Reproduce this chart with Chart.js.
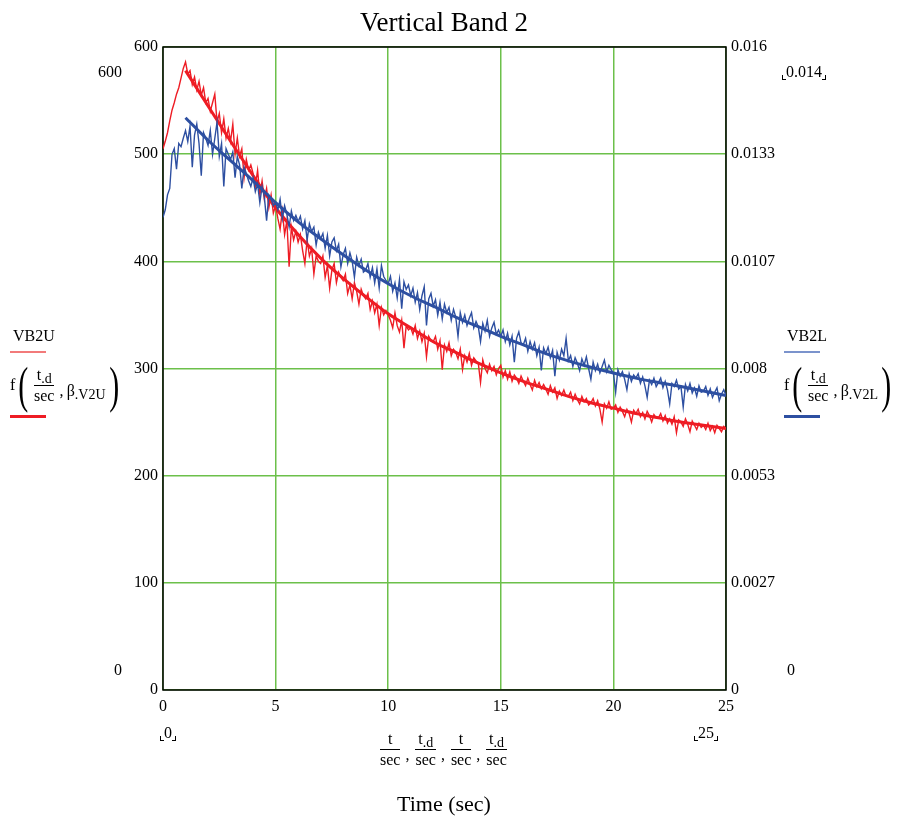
<!DOCTYPE html>
<html>
<head>
<meta charset="utf-8">
<script src="https://cdn.jsdelivr.net/npm/chart.js@4.4.1/dist/chart.umd.min.js"></script>
<style>
  body { margin: 0; background: #fff; }
  #wrap { position: relative; width: 904px; height: 822px; font-family: 'Liberation Serif', 'Times New Roman', serif; color: #000; }
  #chart { position: absolute; left: 0; top: 0; }
  .lbl { position: absolute; white-space: nowrap; font-size: 16px; line-height: 16px; }
  .br { display: inline-block; width: 3px; height: 4px; border-bottom: 1px solid #000; vertical-align: -3px; }
  .br.l { border-left: 1px solid #000; }
  .br.r { border-right: 1px solid #000; }
  .swatch { position: absolute; width: 36px; }
  .fx { position: absolute; display: flex; align-items: center; height: 52px; font-size: 16px; white-space: nowrap; }
  .pa { font-size: 50px; line-height: 52px; display: inline-block; transform: scaleX(0.6); font-weight: 300; }
  .frac { display: inline-flex; flex-direction: column; align-items: center; line-height: 15px; padding: 0 2px; }
  .frac .bar { align-self: stretch; height: 1px; background: #000; margin: 3px 0 2px 0; }
  .args { position: relative; top: 6px; margin-left: 3px; }
  sub { font-size: 14px; vertical-align: -3px; line-height: 0; }
  .xlab { position: absolute; display: flex; align-items: center; font-size: 16px; }
  .xlab .sep { position: relative; top: 6px; margin: 0 4px 0 3px; }
</style>
</head>
<body>
<div id="wrap">
  <canvas id="chart" width="904" height="822"></canvas>

  <div class="lbl" style="left:294px; top:7px; width:300px; text-align:center; font-size:27px; line-height:30px;">Vertical Band 2</div>

  <div class="lbl" style="left:90px; top:64px; width:32px; text-align:right;">600</div>
  <div class="lbl" style="left:90px; top:662px; width:32px; text-align:right;">0</div>
  <div class="lbl" style="left:782px; top:64px;"><span class="br l"></span>0.014<span class="br r"></span></div>
  <div class="lbl" style="left:787px; top:662px;">0</div>
  <div class="lbl" style="left:160px; top:725px;"><span class="br l"></span>0<span class="br r"></span></div>
  <div class="lbl" style="left:694px; top:725px;"><span class="br l"></span>25<span class="br r"></span></div>

  <!-- left trace labels -->
  <div class="lbl" style="left:13px; top:328px;">VB2U</div>
  <div class="swatch" style="left:10px; top:351px; height:2px; background:#f27a7a;"></div>
  <div class="fx" style="left:10px; top:359px;">
    <span>f</span><span class="pa">(</span>
    <span class="frac"><span>t<sub>.d</sub></span><span class="bar"></span><span>sec</span></span>
    <span class="args">,&thinsp;β<sub>.V2U</sub></span><span class="pa">)</span>
  </div>
  <div class="swatch" style="left:10px; top:415px; height:3px; background:#ee1c24;"></div>

  <!-- right trace labels -->
  <div class="lbl" style="left:787px; top:328px;">VB2L</div>
  <div class="swatch" style="left:784px; top:351px; height:2px; background:#7b93cc;"></div>
  <div class="fx" style="left:784px; top:359px;">
    <span>f</span><span class="pa">(</span>
    <span class="frac"><span>t<sub>.d</sub></span><span class="bar"></span><span>sec</span></span>
    <span class="args">,&thinsp;β<sub>.V2L</sub></span><span class="pa">)</span>
  </div>
  <div class="swatch" style="left:784px; top:415px; height:3px; background:#2d4fa1;"></div>

  <!-- x axis expression -->
  <div class="xlab" style="left:378px; top:731px;">
    <span class="frac"><span>t</span><span class="bar"></span><span>sec</span></span><span class="sep">,</span>
    <span class="frac"><span>t<sub>.d</sub></span><span class="bar"></span><span>sec</span></span><span class="sep">,</span>
    <span class="frac"><span>t</span><span class="bar"></span><span>sec</span></span><span class="sep">,</span>
    <span class="frac"><span>t<sub>.d</sub></span><span class="bar"></span><span>sec</span></span>
  </div>
  <div class="lbl" style="left:294px; top:792px; width:300px; text-align:center; font-size:22px; line-height:24px;">Time (sec)</div>
</div>

<script>
// sampled traces, one value every 0.1 s from t = 0 to 25 s
const sampleStep = 0.1;

// VB2U (left axis)
const vb2u = [
  505, 512, 520, 531, 541, 548, 556, 562, 571, 580,
  586, 575, 578, 565, 572, 560, 568, 555, 562, 548,
  552, 540, 548, 556, 530, 538, 520, 533, 515, 524,
  512, 528, 500, 515, 498, 505, 478, 495, 485, 490,
  482, 470, 485, 462, 475, 458, 468, 450, 462, 445,
  452, 440, 430, 447, 425, 438, 395, 432, 420, 428,
  418, 425, 410, 398, 420, 405, 412, 388, 405, 400,
  398, 405, 385, 396, 375, 392, 398, 380, 390, 385,
  382, 388, 370, 378, 365, 380, 372, 360, 374, 368,
  365, 370, 355, 363, 352, 360, 340, 357, 350, 354,
  350, 345, 338, 352, 340, 334, 345, 319, 340, 336,
  338, 332, 340, 328, 335, 325, 333, 311, 330, 326,
  325, 330, 318, 326, 299, 322, 316, 324, 312, 318,
  315, 309, 318, 299, 312, 306, 314, 303, 310, 307,
  305, 287, 308, 300, 296, 304, 298, 302, 294, 300,
  303, 292, 298, 290, 297, 288, 294, 291, 286, 293,
  288, 284, 291, 285, 280, 289, 283, 287, 281, 285,
  281, 276, 284, 278, 282, 272, 279, 275, 280, 274,
  274, 278, 270, 276, 271, 267, 274, 269, 272, 266,
  268, 272, 265, 270, 262, 250, 267, 263, 269, 262,
  263, 266, 259, 264, 260, 255, 262, 258, 250, 261,
  258, 262, 255, 259, 253, 260, 256, 250, 257, 254,
  254, 258, 251, 256, 249, 253, 248, 255, 240, 252,
  250, 246, 253, 248, 241, 251, 247, 243, 249, 245,
  247, 243, 249, 242, 246, 240, 247, 244, 241, 246,
  244
];

// VB2L (right axis)
const vb2l = [
  0.01176, 0.01195, 0.01232, 0.01248, 0.01333, 0.01347, 0.01296, 0.0136, 0.01352, 0.01373,
  0.01392, 0.01365, 0.01403, 0.01301, 0.01381, 0.01408, 0.0136, 0.0128, 0.01387, 0.01373,
  0.01355, 0.01392, 0.01333, 0.01373, 0.01413, 0.01328, 0.0136, 0.01253, 0.01347, 0.01333,
  0.0132, 0.01339, 0.01275, 0.01328, 0.01307, 0.01248, 0.01301, 0.01285, 0.01267, 0.01253,
  0.01275, 0.0124, 0.01259, 0.01213, 0.01253, 0.01227, 0.01168, 0.01232, 0.01221, 0.01205,
  0.01213, 0.01195, 0.01221, 0.01173, 0.01205, 0.01184, 0.01152, 0.01192, 0.01168, 0.01181,
  0.01165, 0.01179, 0.01147, 0.01168, 0.0112, 0.0116, 0.01141, 0.01152, 0.01107, 0.01139,
  0.01123, 0.01136, 0.01099, 0.01131, 0.0108, 0.01115, 0.01125, 0.01093, 0.01109, 0.01053,
  0.01083, 0.01099, 0.01061, 0.01088, 0.01067, 0.01027, 0.01077, 0.01056, 0.01072, 0.0104,
  0.01045, 0.01061, 0.01027, 0.01051, 0.01013, 0.01048, 0.01, 0.01056, 0.01029, 0.01019,
  0.01011, 0.01029, 0.00992, 0.01013, 0.00976, 0.01021, 0.00949, 0.01016, 0.00997, 0.01008,
  0.00981, 0.01, 0.00965, 0.00989, 0.00947, 0.00981, 0.01003, 0.00907, 0.00973, 0.00987,
  0.00955, 0.00971, 0.00933, 0.00965, 0.00923, 0.0096, 0.00939, 0.00952, 0.0092, 0.00947,
  0.00928, 0.0088, 0.00939, 0.00915, 0.00933, 0.00907, 0.00925, 0.00939, 0.00901, 0.00917,
  0.00904, 0.00867, 0.00912, 0.00893, 0.0092, 0.0088, 0.00901, 0.00915, 0.00885, 0.00896,
  0.0088, 0.00896, 0.00867, 0.00888, 0.00859, 0.0088, 0.00816, 0.00875, 0.00891, 0.00864,
  0.00859, 0.00875, 0.00843, 0.00867, 0.00848, 0.00864, 0.00832, 0.00853, 0.00795, 0.00851,
  0.00837, 0.00853, 0.00827, 0.00845, 0.00781, 0.0084, 0.00821, 0.00848, 0.00832, 0.00875,
  0.00819, 0.00832, 0.00805, 0.00827, 0.00813, 0.00795, 0.00824, 0.00808, 0.00829, 0.008,
  0.00773, 0.00816, 0.00795, 0.00811, 0.00789, 0.00805, 0.00821, 0.00792, 0.00808, 0.00797,
  0.00789, 0.00741, 0.00797, 0.00781, 0.00792, 0.00773, 0.00747, 0.00787, 0.00768, 0.00784,
  0.00776, 0.00787, 0.00763, 0.00779, 0.00757, 0.00728, 0.00771, 0.0076, 0.00776, 0.00755,
  0.00765, 0.00776, 0.00752, 0.00768, 0.00747, 0.00712, 0.00763, 0.00755, 0.00771, 0.00749,
  0.00755, 0.00704, 0.0076, 0.00744, 0.00763, 0.00739, 0.00752, 0.00731, 0.00757, 0.00741,
  0.00744, 0.00755, 0.00733, 0.00749, 0.00728, 0.00741, 0.00752, 0.0072, 0.00736, 0.00747,
  0.00733
];

// fitted curves f(t.d/sec, beta)
const fitTime = [1, 2, 3, 4, 5, 6, 7, 8, 9, 10, 11, 12, 13, 14, 15, 16, 17, 18, 19, 20, 21, 22, 23, 24, 25];
const fitV2U = [578, 545, 512, 480, 450, 425, 403, 384, 367, 351, 338, 325, 315, 305, 296, 288, 281, 274, 268, 263, 258, 254, 250, 247, 244];
const fitV2L = [0.01424, 0.01368, 0.01317, 0.01267, 0.01213, 0.01165, 0.01123, 0.01083, 0.01045, 0.01011,
  0.00981, 0.00955, 0.00928, 0.00904, 0.0088, 0.00859, 0.00837, 0.00819, 0.00803, 0.00789,
  0.00776, 0.00765, 0.00755, 0.00744, 0.00733];

const rightTickLabels = ["0", "0.0027", "0.0053", "0.008", "0.0107", "0.0133", "0.016"];

const RED = "#ee1c24";
const BLUE = "#2d4fa1";
const GRID = "#6cc04a";
const FONT = "'Liberation Serif', 'Times New Roman', serif";

function toPoints(xs, ys) {
  return ys.map((y, i) => ({ x: xs[i], y: y }));
}
const sampleTime = vb2u.map((_, i) => +(i * sampleStep).toFixed(1));

// black box round the plot area
const framePlugin = {
  id: "frame",
  beforeDatasetsDraw(chart) {
    const { ctx, chartArea: a } = chart;
    ctx.save();
    ctx.strokeStyle = "#000";
    ctx.lineWidth = 1.5;
    ctx.strokeRect(a.left, a.top, a.right - a.left, a.bottom - a.top);
    ctx.restore();
  }
};

new Chart(document.getElementById("chart"), {
  type: "line",
  data: {
    datasets: [
      { label: "fit V2L", data: toPoints(fitTime, fitV2L), yAxisID: "y1", borderColor: BLUE, borderWidth: 3, pointRadius: 0, tension: 0.4, cubicInterpolationMode: "monotone", order: 0 },
      { label: "VB2L", data: toPoints(sampleTime, vb2l), yAxisID: "y1", borderColor: BLUE, borderWidth: 1.4, pointRadius: 0, tension: 0, order: 1 },
      { label: "fit V2U", data: toPoints(fitTime, fitV2U), yAxisID: "y", borderColor: RED, borderWidth: 3, pointRadius: 0, tension: 0.4, cubicInterpolationMode: "monotone", order: 2 },
      { label: "VB2U", data: toPoints(sampleTime, vb2u), yAxisID: "y", borderColor: RED, borderWidth: 1.4, pointRadius: 0, tension: 0, order: 3 }
    ]
  },
  options: {
    responsive: false,
    animation: false,
    devicePixelRatio: 1,
    layout: { padding: { top: 47 } },
    plugins: { legend: { display: false }, tooltip: { enabled: false } },
    scales: {
      x: {
        type: "linear", min: 0, max: 25,
        ticks: { stepSize: 5, padding: 7, color: "#000", font: { family: FONT, size: 16 }, maxRotation: 0 },
        grid: { color: GRID, lineWidth: 1.5, drawTicks: false },
        border: { display: false },
        afterFit(s) { s.height = 132; }
      },
      y: {
        position: "left", min: 0, max: 600,
        ticks: { stepSize: 100, padding: 5, color: "#000", font: { family: FONT, size: 16 } },
        grid: { color: GRID, lineWidth: 1.5, drawTicks: false },
        border: { display: false },
        afterFit(s) { s.width = 163; }
      },
      y1: {
        position: "right", min: 0, max: 0.016,
        afterBuildTicks(s) {
          s.ticks = rightTickLabels.map((l, i) => ({ value: s.max * i / (rightTickLabels.length - 1) }));
        },
        ticks: { padding: 5, color: "#000", font: { family: FONT, size: 16 }, callback: (v, i) => rightTickLabels[i] },
        grid: { display: false, drawTicks: false },
        border: { display: false },
        afterFit(s) { s.width = 178; }
      }
    }
  },
  plugins: [framePlugin]
});
</script>
</body>
</html>
